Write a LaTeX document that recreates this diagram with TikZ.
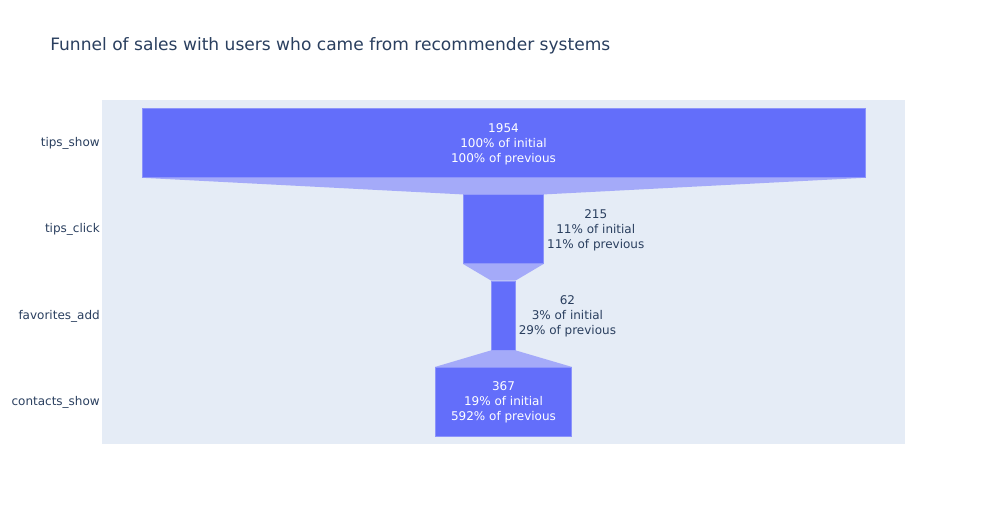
\documentclass[tikz,border=0pt]{standalone}
\usepackage{fontspec}
\setmainfont{DejaVu Sans}
\definecolor{barc}{HTML}{636EFA}
\definecolor{conc}{HTML}{A4AAF9}
\definecolor{edgec}{HTML}{8C94FB}
\definecolor{plotbg}{HTML}{E5ECF6}
\definecolor{txt}{HTML}{2A3F5F}
\tikzset{
  bar/.style={rectangle, inner sep=0pt, fill=barc, draw=edgec, line width=0.4pt,
    minimum height=51.75pt},
  inlbl/.style={inner sep=0pt, text=white, align=center,
    font=\fontsize{9}{11.25}\selectfont},
  conn/.style={fill=conc},
  outlbl/.style={anchor=west, inner sep=0pt, text=txt, align=center,
    font=\fontsize{9}{11.25}\selectfont},
  axlbl/.style={anchor=east, inner sep=0pt, text=txt,
    font=\fontsize{9}{11}\selectfont},
  ttl/.style={anchor=west, inner sep=0pt, text=txt,
    font=\fontsize{12.8}{15}\selectfont}
}
\begin{document}
\begin{tikzpicture}[x=0.75pt,y=-0.75pt]
\useasboundingbox[fill=white] (0,0) rectangle (985,525);
\fill[plotbg] (102,100) rectangle (905,444);
\node[ttl] (title) at (50,45.5) {Funnel of sales with users who came from recommender systems};
% bars
\node[bar, minimum width=542.25pt] (b1) at (503.5,143) {};
\node[bar, minimum width=60pt] (b2) at (503.3,229.2) {};
\node[bar, minimum width=17.5pt] (b3) at (503.3,315.5) {};
\node[bar, minimum width=102.3pt] (b4) at (503.5,401.7) {};
% connectors
\fill[conn] (b1.south west) -- (b1.south east) -- (b2.north east) -- (b2.north west) -- cycle;
\fill[conn] (b2.south west) -- (b2.south east) -- (b3.north east) -- (b3.north west) -- cycle;
\fill[conn] (b3.south west) -- (b3.south east) -- (b4.north east) -- (b4.north west) -- cycle;
% inside labels
\node[inlbl] (t1) at ([yshift=-0.75pt]b1.center) {1954\\100\% of initial\\100\% of previous};
\node[inlbl] (t4) at ([yshift=-0.75pt]b4.center) {367\\19\% of initial\\592\% of previous};
% outside labels
\node[outlbl] (l2) at ([xshift=2.5pt,yshift=-0.75pt]b2.east) {215\\11\% of initial\\11\% of previous};
\node[outlbl] (l3) at ([xshift=2.5pt,yshift=-0.75pt]b3.east) {62\\3\% of initial\\29\% of previous};
% axis labels
\node[axlbl] (a1) at (100,143.5) {tips\_show};
\node[axlbl] (a2) at (100,229.7) {tips\_click};
\node[axlbl] (a3) at (100,316) {favorites\_add};
\node[axlbl] (a4) at (100,402.2) {contacts\_show};
\end{tikzpicture}
\end{document}
